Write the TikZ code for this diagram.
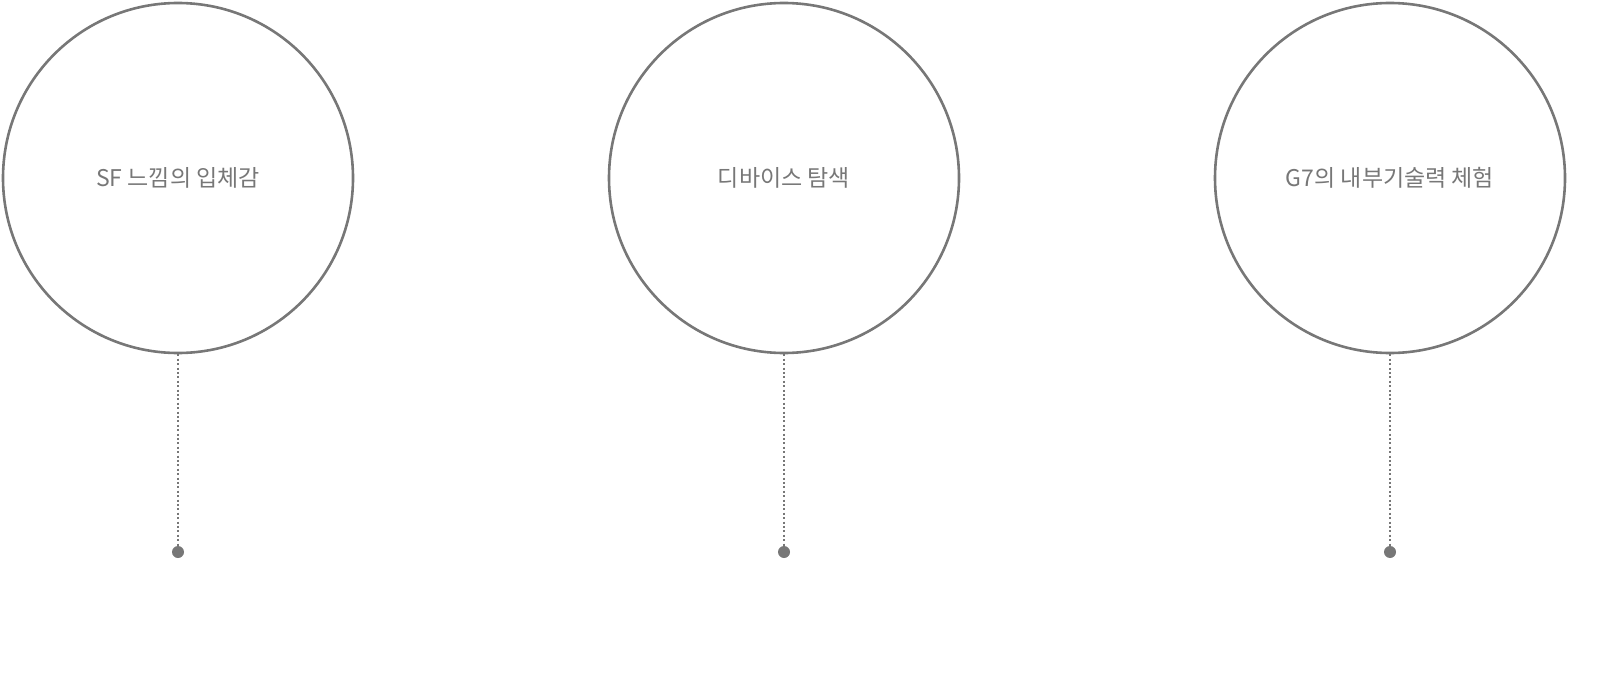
\documentclass[tikz,border=0pt]{standalone}
\usepackage{fontspec}
\newfontfamily\krfont{Noto Sans CJK KR}
\usetikzlibrary{positioning}
\definecolor{greyline}{HTML}{777777}
\tikzset{
  bigcircle/.style = {circle, draw = greyline, line width = 2.6pt, minimum size = 350pt, inner sep = 0pt, text = greyline, font = \krfont\fontsize{23}{27}\selectfont},
  dotline/.style = {draw = greyline, line width = 1.6pt, dash pattern = on 2pt off 2.4pt},
  enddot/.style = {circle, fill = greyline, minimum size = 12pt, inner sep = 0pt}
}
\begin{document}
\begin{tikzpicture}[x = 1pt, y = -1pt]
\useasboundingbox (0, 0) rectangle (1604, 677);
\node[bigcircle] (c1) at (178, 178) {SF 느낌의 입체감};
\node[enddot] (d1) at (178, 552) {};
\draw[dotline] (c1.south) -- (d1.north);
\node[bigcircle] (c2) at (784, 178) {디바이스 탐색};
\node[enddot] (d2) at (784, 552) {};
\draw[dotline] (c2.south) -- (d2.north);
\node[bigcircle] (c3) at (1390, 178) {G7의 내부기술력 체험};
\node[enddot] (d3) at (1390, 552) {};
\draw[dotline] (c3.south) -- (d3.north);
\end{tikzpicture}
\end{document}
